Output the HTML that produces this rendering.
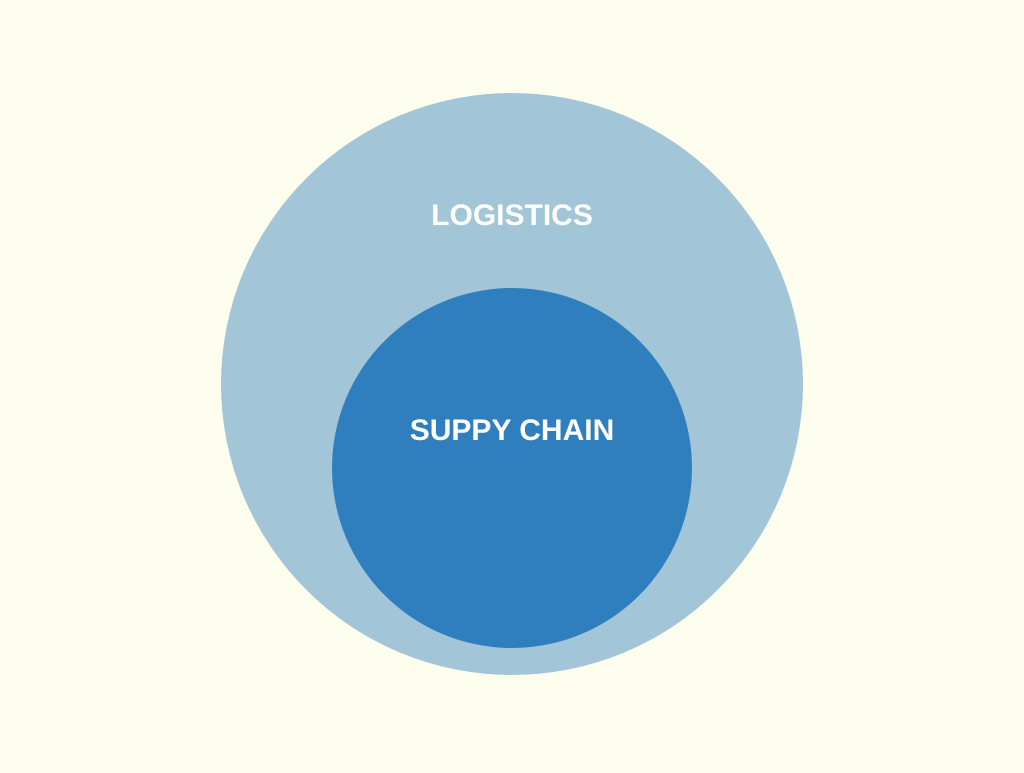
<!DOCTYPE html>
<html><head><style>html,body{margin:0;padding:0;background:#fefeee;}</style></head>
<body>
<svg width="1024" height="768" xmlns="http://www.w3.org/2000/svg">
<rect width="1024" height="768" fill="#fefeee"/>
<circle cx="512" cy="384" r="291" fill="#a3c5d8"/>
<circle cx="512" cy="468" r="180" fill="#2f7fbf"/>
<text x="512" y="225" text-anchor="middle" font-family="Liberation Sans, sans-serif" font-weight="bold" font-size="30" fill="#ffffff">LOGISTICS</text>
<text x="512" y="440" text-anchor="middle" font-family="Liberation Sans, sans-serif" font-weight="bold" font-size="30" fill="#ffffff">SUPPY CHAIN</text>
</svg>
</body></html>
